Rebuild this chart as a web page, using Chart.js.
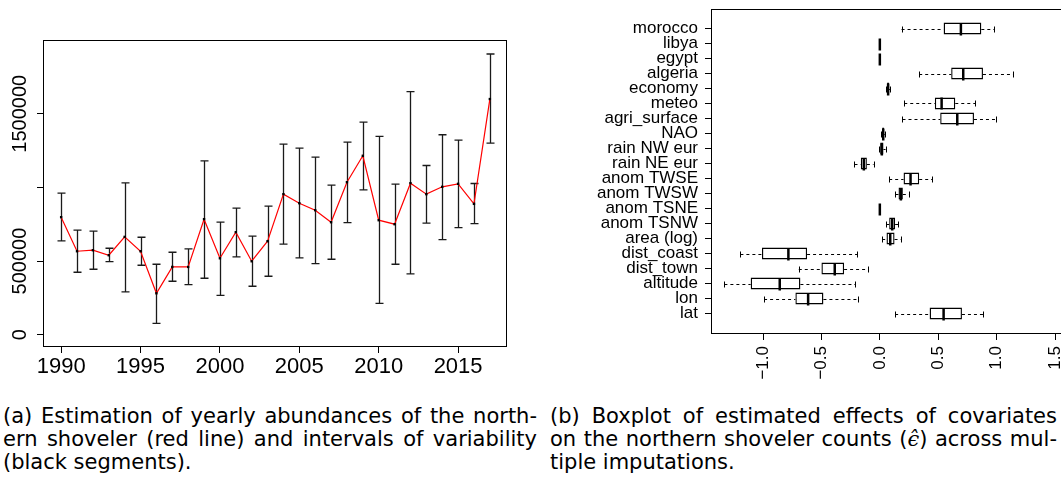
<!DOCTYPE html>
<html><head><meta charset="utf-8">
<script src="https://cdn.jsdelivr.net/npm/chart.js@4.4.1/dist/chart.umd.min.js"></script>
<style>
html,body{margin:0;padding:0;background:#fff;}
body{width:1061px;height:497px;overflow:hidden;position:relative;}
#c1{position:absolute;left:0;top:0;}
#c2{position:absolute;left:530px;top:0;}
.cap{position:absolute;font-family:"DejaVu Sans",sans-serif;font-size:21px;line-height:23px;color:#000;}
.cap div{text-align:justify;text-align-last:justify;white-space:nowrap;}
.cap div.last{text-align-last:left;}
.eps{font-family:"DejaVu Serif",serif;font-style:italic;}
</style></head><body>
<canvas id="c1" width="530" height="380"></canvas>
<canvas id="c2" width="560" height="395"></canvas>
<div class="cap" style="left:3px;top:405px;width:534px">
<div>(a) Estimation of yearly abundances of the north-</div>
<div>ern shoveler (red line) and intervals of variability</div>
<div class="last">(black segments).</div>
</div>
<div class="cap" style="left:550px;top:405px;width:507px">
<div>(b) Boxplot of estimated effects of covariates</div>
<div>on the northern shoveler counts (<span class="eps">ϵ̂</span>) across mul-</div>
<div class="last">tiple imputations.</div>
</div>
<script>
// ---- Panel (a) data ----
const years = [1990,1991,1992,1993,1994,1995,1996,1997,1998,1999,2000,2001,2002,2003,2004,2005,2006,2007,2008,2009,2010,2011,2012,2013,2014,2015,2016,2017];
const abundance = [797600,566500,573300,539300,663900,566500,281000,460000,460000,784000,518900,695600,498500,634500,954000,892800,845200,763600,1035500,1214500,777200,750000,1028700,954000,1003800,1024200,888200,1599800];
const lowerBound = [636700,423700,444100,496200,290000,471300,77000,362500,339900,382900,267400,528000,328600,396500,614100,521200,482600,512100,761300,983400,213000,478100,412400,756800,645800,727400,754600,1300600];
const upperBound = [960700,709200,702400,586900,1031000,661600,478100,559700,582300,1180600,763600,858800,668400,872400,1293800,1266700,1205500,1015100,1307400,1443400,1346000,1021900,1649600,1148800,1357300,1321000,1026500,1905700];
const xTickValsA = [1990,1995,2000,2005,2010,2015];
const yTickValsA = [0,500000,1000000,1500000];
const yTickLabelsA = ['0','500000','','1500000'];

// ---- Panel (b) data ----
const covariates = ['morocco','libya','egypt','algeria','economy','meteo','agri_surface','NAO','rain NW eur','rain NE eur','anom TWSE','anom TWSW','anom TSNE','anom TSNW','area (log)','dist_coast','dist_town','altitude','lon','lat'];
const whiskLow = [0.186,0,0,0.337,0.055,0.209,0.194,0.014,-0.006,-0.217,0.080,0.134,0,0.057,0.020,-1.194,-0.694,-1.331,-0.991,0.131];
const q1 = [0.546,0,0,0.611,0.062,0.471,0.517,0.020,0.003,-0.163,0.203,0.160,0,0.080,0.057,-1.009,-0.500,-1.106,-0.723,0.426];
const median = [0.694,0,0,0.714,0.071,0.529,0.663,0.029,0.017,-0.137,0.263,0.180,0,0.106,0.089,-0.783,-0.386,-0.857,-0.614,0.546];
const q3 = [0.869,0,0,0.883,0.080,0.646,0.806,0.037,0.031,-0.111,0.337,0.197,0,0.131,0.126,-0.623,-0.306,-0.680,-0.483,0.703];
const whiskHigh = [0.977,0,0,1.143,0.088,0.817,0.991,0.043,0.049,-0.054,0.449,0.249,0,0.157,0.180,-0.194,-0.100,-0.211,-0.186,0.886];
const xTickValsB = [-1,-0.5,0,0.5,1,1.5];

const FONT = '"Liberation Sans", Arial, Helvetica, sans-serif';

function fixPad(s){ s.paddingTop=0; s.paddingBottom=0; s.paddingLeft=0; s.paddingRight=0; }

const framePlugin = {
  id:'frame',
  beforeDatasetsDraw(chart){
    const {left,top,right,bottom} = chart.chartArea, ctx = chart.ctx;
    ctx.save(); ctx.strokeStyle='#000'; ctx.lineWidth=1;
    const x0=Math.round(left)-0.5, y0=Math.round(top)+0.5, x1=Math.round(right)-0.5, y1=Math.round(bottom)+0.5;
    ctx.strokeRect(x0,y0,x1-x0,y1-y0);
    ctx.restore();
  }
};

const errPlugin = {
  id:'err',
  beforeDatasetsDraw(chart){
    const xs=chart.scales.x, ys=chart.scales.y, ctx=chart.ctx;
    ctx.save(); ctx.strokeStyle='#1a1a1a'; ctx.lineWidth=1.3;
    years.forEach((yr,i)=>{
      const x=Math.round(xs.getPixelForValue(yr))+0.5;
      const a=ys.getPixelForValue(lowerBound[i]), b=ys.getPixelForValue(upperBound[i]);
      ctx.beginPath();
      ctx.moveTo(x,a); ctx.lineTo(x,b);
      ctx.moveTo(x-4,a); ctx.lineTo(x+4,a);
      ctx.moveTo(x-4,b); ctx.lineTo(x+4,b);
      ctx.stroke();
    });
    ctx.restore();
  }
};

const yLabelPlugin = {
  id:'ylab',
  afterDraw(chart){
    const ys=chart.scales.y, ctx=chart.ctx;
    ctx.save(); ctx.font='20px '+FONT; ctx.fillStyle='#000'; ctx.textAlign='center'; ctx.textBaseline='middle';
    yTickValsA.forEach((v,i)=>{
      if(!yTickLabelsA[i]) return;
      const p=ys.getPixelForValue(v);
      ctx.save(); ctx.translate(20,p); ctx.rotate(-Math.PI/2); ctx.fillText(yTickLabelsA[i],0,0); ctx.restore();
    });
    ctx.restore();
  }
};

const gridOpts = {drawOnChartArea:false, drawTicks:true, tickLength:7, color:'#000', lineWidth:1, offset:false};

new Chart(document.getElementById('c1'), {
  type:'line',
  data:{datasets:[{
    data: years.map((y,i)=>({x:y, y:abundance[i]})),
    borderColor:'#ff0000', borderWidth:1.2, tension:0, fill:false,
    pointStyle:'rect', pointRadius:1.7, pointBackgroundColor:'#000', pointBorderColor:'#000', pointBorderWidth:0
  }]},
  options:{
    responsive:false, animation:false, devicePixelRatio:1,
    layout:{padding:{top:40,right:23,left:0,bottom:0}},
    plugins:{legend:{display:false}, tooltip:{enabled:false}},
    scales:{
      x:{type:'linear', min:1988.92, max:2018.08,
        afterBuildTicks(s){ s.ticks = xTickValsA.map(v=>({value:v})); },
        afterFit(s){ s.height = 34; fixPad(s); },
        ticks:{autoSkip:false, maxRotation:0, color:'#000', padding:1, font:{family:FONT, size:22}, callback:v=>String(v)},
        grid:gridOpts, border:{display:false}},
      y:{type:'linear', min:-77000, max:2000800,
        afterBuildTicks(s){ s.ticks = yTickValsA.map(v=>({value:v})); },
        afterFit(s){ s.width = 44; fixPad(s); },
        ticks:{display:false},
        grid:gridOpts, border:{display:false}}
    }
  },
  plugins:[framePlugin, errPlugin, yLabelPlugin]
});

const N = covariates.length;
const boxPlugin = {
  id:'box',
  afterDatasetsDraw(chart){
    const xs=chart.scales.x, ys=chart.scales.y, ctx=chart.ctx;
    const meta = chart.getDatasetMeta(0);
    const px = v => xs.getPixelForValue(v);
    ctx.save();
    ctx.beginPath(); const ca=chart.chartArea; ctx.rect(ca.left,ca.top,ca.right-ca.left,ca.bottom-ca.top); ctx.clip();
    ctx.strokeStyle='#000';
    covariates.forEach((c,i)=>{
      const el = meta.data[i];
      const h = el.height;
      const y = Math.round(ys.getPixelForValue(N-i))+0.5;
      ctx.lineWidth=1; ctx.setLineDash([3,3]);
      ctx.beginPath();
      ctx.moveTo(px(whiskLow[i]),y); ctx.lineTo(px(q1[i]),y);
      ctx.moveTo(px(q3[i]),y); ctx.lineTo(px(whiskHigh[i]),y);
      ctx.stroke();
      ctx.setLineDash([]);
      ctx.beginPath();
      [whiskLow[i],whiskHigh[i]].forEach(v=>{ const x=Math.round(px(v))+0.5; ctx.moveTo(x,y-h/4); ctx.lineTo(x,y+h/4); });
      ctx.stroke();
      ctx.lineWidth=2.5;
      ctx.beginPath();
      const mx=px(median[i]);
      ctx.moveTo(mx,y-h/2); ctx.lineTo(mx,y+h/2);
      ctx.stroke();
    });
    ctx.restore();
  }
};

new Chart(document.getElementById('c2'), {
  type:'bar',
  data:{datasets:[{
    data: covariates.map((c,i)=>({x:[q1[i],q3[i]], y:N-i})),
    backgroundColor:'#fff', borderColor:'#000', borderWidth:1.4, borderSkipped:false,
    barPercentage:0.8, categoryPercentage:1
  }]},
  options:{
    indexAxis:'y', responsive:false, animation:false, devicePixelRatio:1,
    layout:{padding:{top:9,right:15,left:0,bottom:0}},
    plugins:{legend:{display:false}, tooltip:{enabled:false}},
    scales:{
      x:{type:'linear', min:-1.437, max:1.671, offset:false,
        afterBuildTicks(s){ s.ticks = xTickValsB.map(v=>({value:v})); },
        afterFit(s){ s.height = 62; fixPad(s); },
        ticks:{autoSkip:false, minRotation:90, maxRotation:90, color:'#000', padding:6, font:{family:FONT, size:17},
          callback:v=>(v<0?'\u2212':'')+Math.abs(v).toFixed(1)},
        grid:gridOpts, border:{display:false}},
      y:{type:'linear', min:-0.3, max:21.3, offset:false,
        afterBuildTicks(s){ s.ticks = covariates.map((c,i)=>({value:N-i})); },
        afterFit(s){ s.width = 182; fixPad(s); },
        ticks:{autoSkip:false, color:'#000', padding:7, font:{family:FONT, size:17}, callback:v=>covariates[N-v]},
        grid:gridOpts, border:{display:false}}
    }
  },
  plugins:[framePlugin, boxPlugin]
});
</script>
</body></html>
